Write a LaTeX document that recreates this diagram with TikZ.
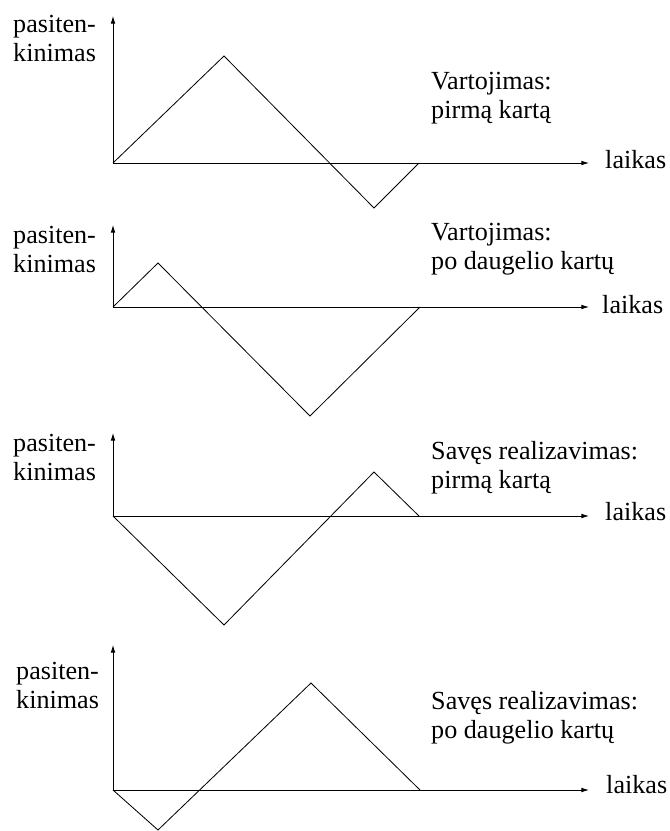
\documentclass[tikz,border=0pt]{standalone}
\usepackage{fontspec}
\setmainfont{Liberation Serif}
\usetikzlibrary{arrows.meta}

\begin{document}
\begin{tikzpicture}[x=0.03cm,y=-0.03cm,
  axis/.style={line width=0.7pt, -{Latex[length=6.5pt,width=4pt]}},
  curve/.style={line width=0.7pt, line join=miter},
  lbl/.style={anchor=base west, inner sep=0pt, align=left, font=\fontsize{22.3pt}{24pt}\selectfont}]
\useasboundingbox (0,0) rectangle (670,831);

% pirmas grafikas
\coordinate (o1) at (113,163);
\coordinate (y1) at (113,16);
\coordinate (x1) at (589,163);
\coordinate (a1) at (224,56);
\coordinate (b1) at (374,208);
\coordinate (c1) at (419,163);
\draw[axis] (o1) -- (y1);
\draw[axis] (o1) -- (x1);
\draw[curve] (o1) -- (a1) -- (b1) -- (c1);
\node[lbl] (p1) at (13,61) {pasiten-\\kinimas};
\node[lbl] (t1) at (431,118) {Vartojimas:\\pirmą kartą};
\node[lbl] (l1) at (605,168) {laikas};

% antras grafikas
\coordinate (o2) at (113,307);
\coordinate (y2) at (113,225);
\coordinate (x2) at (589,307);
\coordinate (a2) at (158,263);
\coordinate (b2) at (310,416);
\coordinate (c2) at (420,307);
\draw[axis] (o2) -- (y2);
\draw[axis] (o2) -- (x2);
\draw[curve] (o2) -- (a2) -- (b2) -- (c2);
\node[lbl] (p2) at (13,272) {pasiten-\\kinimas};
\node[lbl] (t2) at (431,269) {Vartojimas:\\po daugelio kartų};
\node[lbl] (l2) at (602,313) {laikas};

% trecias grafikas
\coordinate (o3) at (113,516);
\coordinate (y3) at (113,433);
\coordinate (x3) at (589,516);
\coordinate (a3) at (224,625);
\coordinate (b3) at (374,472);
\coordinate (c3) at (419,516);
\draw[axis] (o3) -- (y3);
\draw[axis] (o3) -- (x3);
\draw[curve] (o3) -- (a3) -- (b3) -- (c3);
\node[lbl] (p3) at (13,480) {pasiten-\\kinimas};
\node[lbl] (t3) at (431,488) {Savęs realizavimas:\\pirmą kartą};
\node[lbl] (l3) at (605,520) {laikas};

% ketvirtas grafikas
\coordinate (o4) at (113,790);
\coordinate (y4) at (113,645);
\coordinate (x4) at (589,790);
\coordinate (a4) at (158,830);
\coordinate (b4) at (311,683);
\coordinate (c4) at (420,790);
\draw[axis] (o4) -- (y4);
\draw[axis] (o4) -- (x4);
\draw[curve] (o4) -- (a4) -- (b4) -- (c4);
\node[lbl] (p4) at (16,708) {pasiten-\\kinimas};
\node[lbl] (t4) at (431,738) {Savęs realizavimas:\\po daugelio kartų};
\node[lbl] (l4) at (606,793) {laikas};
\end{tikzpicture}
\end{document}
